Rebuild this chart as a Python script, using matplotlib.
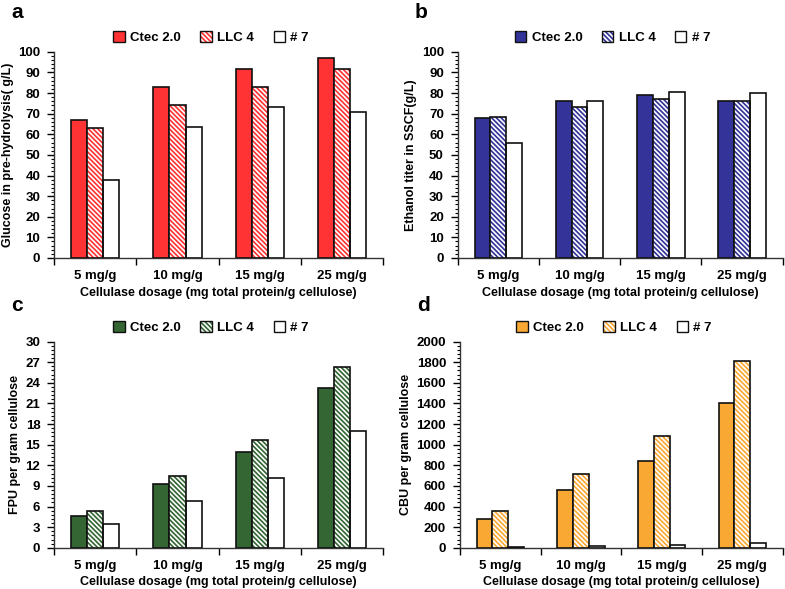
import matplotlib
matplotlib.use("Agg")
import matplotlib.pyplot as plt
from matplotlib.patches import Patch
from matplotlib.ticker import MultipleLocator, FixedLocator, NullFormatter, FixedFormatter
import numpy as np

plt.rcParams['font.family'] = ['Liberation Sans', 'DejaVu Sans']
plt.rcParams['font.weight'] = 'bold'
plt.rcParams['hatch.linewidth'] = 1.2

categories = ["5 mg/g", "10 mg/g", "15 mg/g", "25 mg/g"]
series_names = ["Ctec 2.0", "LLC 4", "# 7"]

glucose_ctec = [67, 83, 91.5, 97]
glucose_llc4 = [63, 74, 83, 91.5]
glucose_7 = [38, 63.5, 73, 71]

ethanol_ctec = [68, 76.2, 79, 76.3]
ethanol_llc4 = [68.5, 73, 77.3, 76]
ethanol_7 = [56, 76, 80.5, 80]

fpu_ctec = [4.6, 9.3, 13.9, 23.3]
fpu_llc4 = [5.3, 10.5, 15.7, 26.3]
fpu_7 = [3.4, 6.8, 10.2, 17.0]

cbu_ctec = [280, 560, 840, 1400]
cbu_llc4 = [360, 720, 1085, 1810]
cbu_7 = [10, 20, 30, 50]

panels = [
    dict(letter="a", data=(glucose_ctec, glucose_llc4, glucose_7), color="#FF3333",
         ylabel="Glucose in pre-hydrolysis( g/L)", ymax=100, major=10,
         rect=[0.069, 0.562, 0.419, 0.350]),
    dict(letter="b", data=(ethanol_ctec, ethanol_llc4, ethanol_7), color="#333399",
         ylabel="Ethanol titer in SSCF(g/L)", ymax=100, major=10,
         rect=[0.583, 0.562, 0.414, 0.350]),
    dict(letter="c", data=(fpu_ctec, fpu_llc4, fpu_7), color="#336633",
         ylabel="FPU per gram cellulose", ymax=30, major=3,
         rect=[0.069, 0.070, 0.419, 0.350]),
    dict(letter="d", data=(cbu_ctec, cbu_llc4, cbu_7), color="#F9A833",
         ylabel="CBU per gram cellulose", ymax=2000, major=200,
         rect=[0.586, 0.070, 0.411, 0.350]),
]

fig = plt.figure(figsize=(7.85, 5.89), dpi=100)
x = np.arange(len(categories)) + 0.5
w = 0.195
edge = "#111111"
hatch = "\\\\\\\\\\\\\\"

for p in panels:
    ax = fig.add_axes(p["rect"])
    c1, c2, c3 = p["data"]
    ax.bar(x - w, c1, w, color=p["color"], edgecolor=edge, linewidth=1.2, zorder=3)
    # hatched bar: white hatch on colour, then outline
    ax.bar(x, c2, w, color=p["color"], edgecolor="white", hatch=hatch, linewidth=0, zorder=3)
    ax.bar(x, c2, w, color="none", edgecolor=edge, linewidth=1.2, zorder=4)
    ax.bar(x + w, c3, w, color="white", edgecolor=edge, linewidth=1.2, zorder=3)

    ax.set_xlim(0, len(categories))
    ax.set_ylim(0, p["ymax"])
    ax.yaxis.set_major_locator(MultipleLocator(p["major"]))
    ax.yaxis.set_minor_locator(MultipleLocator(p["major"] / 5))
    ax.tick_params(axis='y', which='major', length=5, width=1, labelsize=9.5, pad=5, direction='out')
    ax.tick_params(axis='y', which='minor', length=2.5, width=0.8, direction='out')

    ax.xaxis.set_major_locator(FixedLocator(np.arange(len(categories) + 1)))
    ax.xaxis.set_major_formatter(NullFormatter())
    ax.xaxis.set_minor_locator(FixedLocator(x))
    ax.xaxis.set_minor_formatter(FixedFormatter(categories))
    ax.tick_params(axis='x', which='major', length=5, width=1, direction='out')
    ax.tick_params(axis='x', which='minor', length=0, labelsize=9.5, pad=9)

    for s in ["top", "right"]:
        ax.spines[s].set_visible(False)
    for s in ["left", "bottom"]:
        ax.spines[s].set_color("#333333")
        ax.spines[s].set_linewidth(1.0)

    ax.set_ylabel(p["ylabel"], fontsize=9, fontweight='bold', labelpad=3)
    ax.set_xlabel("Cellulase dosage (mg total protein/g cellulose)", fontsize=9,
                  fontweight='bold', labelpad=3)

    handles = [
        Patch(facecolor=p["color"], edgecolor=edge, linewidth=1.0),
        (Patch(facecolor=p["color"], edgecolor="white", hatch=hatch, linewidth=0),
         Patch(facecolor="none", edgecolor=edge, linewidth=1.0)),
        Patch(facecolor="white", edgecolor=edge, linewidth=1.0),
    ]
    ax.legend(handles, series_names, loc="center", bbox_to_anchor=(0.477, 1.068),
              ncol=3, frameon=False, handlelength=0.85, handleheight=0.85,
              handletextpad=0.4, columnspacing=1.5, borderpad=0.1,
              prop={'weight': 'bold', 'size': 9.5})

    bb = ax.get_position()
    fig.text(bb.x0 - 0.055, 0.978 if bb.y1 > 0.5 else 0.482, p["letter"], fontsize=15,
             fontweight='bold', ha='left', va='center')

fig.savefig("out.png", dpi=100)
